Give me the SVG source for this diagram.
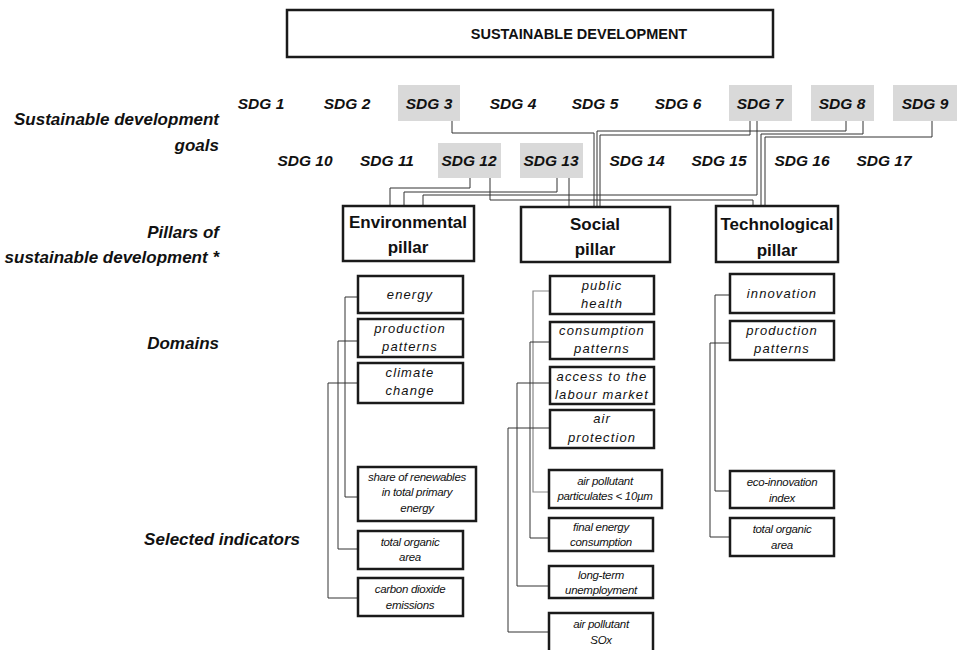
<svg xmlns="http://www.w3.org/2000/svg" width="963" height="650" viewBox="0 0 963 650">
<style>
.bx{fill:#fff;stroke:#1a1a1a;stroke-width:2.5}
.gb{fill:#d9d9d9;stroke:none}
.t{font-family:"Liberation Sans",Arial,sans-serif;fill:#111}
.sdg{font-style:italic;font-weight:bold;font-size:15.5px;text-anchor:middle}
.pl{font-weight:bold;font-size:17px;text-anchor:middle}
.dm{font-style:italic;font-size:13px;letter-spacing:1.1px;text-anchor:middle}
.in{font-style:italic;font-size:11.5px;letter-spacing:-0.3px;text-anchor:middle}
.lb{font-style:italic;font-weight:bold;font-size:17px;text-anchor:end}
.ti{font-size:14.5px;font-weight:bold;text-anchor:middle}
.c{fill:none;stroke:#333;stroke-width:1}
.cg{fill:none;stroke:#888;stroke-width:1.2}
</style>
<rect width="963" height="650" fill="#fff"/>
<g id="title"><rect class="bx" x="287" y="10" width="486" height="47"/><text class="t ti" x="579" y="39">SUSTAINABLE DEVELOPMENT</text></g>
<g id="labels">
<text class="t lb" x="219" y="125">Sustainable development</text>
<text class="t lb" x="219" y="151">goals</text>
<text class="t lb" x="219" y="238">Pillars of</text>
<text class="t lb" x="219" y="263">sustainable development *</text>
<text class="t lb" x="219" y="349">Domains</text>
<text class="t lb" x="300" y="545">Selected indicators</text>
</g>
<g id="connectors">
<path class="c" d="M452 121V133H594V207"/>
<path class="c" d="M846 121V131H597V207"/>
<path class="c" d="M750 121V135H600V207"/>
<path class="c" d="M863 121V134H761V206"/>
<path class="c" d="M932 121V137H765V206"/>
<path class="c" d="M757 121V195H423V206"/>
<path class="c" d="M470 178V188H390V206"/>
<path class="c" d="M490 178V200H753V206"/>
<path class="c" d="M557 178V192H404V206"/>
<path class="c" d="M569 178V207"/>
<path class="c" d="M358 297H345V497H358"/>
<path class="c" d="M358 341H338V549H358"/>
<path class="c" d="M358 383H328V598H358"/>
<path class="cg" d="M550 291H533V492H549"/>
<path class="c" d="M550 342H530V538H549"/>
<path class="c" d="M550 383H517V586H549"/>
<path class="c" d="M550 428H508V632H549"/>
<path class="c" d="M730 295H715V491H730"/>
<path class="c" d="M730 343H710V537H730"/>
</g>
<g id="sdg1"><text class="t sdg" x="261" y="109">SDG 1</text></g>
<g id="sdg2"><text class="t sdg" x="347" y="109">SDG 2</text></g>
<g id="sdg3"><rect class="gb" x="398" y="85" width="62" height="36"/><text class="t sdg" x="429" y="109">SDG 3</text></g>
<g id="sdg4"><text class="t sdg" x="513" y="109">SDG 4</text></g>
<g id="sdg5"><text class="t sdg" x="595" y="109">SDG 5</text></g>
<g id="sdg6"><text class="t sdg" x="678" y="109">SDG 6</text></g>
<g id="sdg7"><rect class="gb" x="729" y="85" width="63" height="36"/><text class="t sdg" x="760" y="109">SDG 7</text></g>
<g id="sdg8"><rect class="gb" x="811" y="85" width="63" height="36"/><text class="t sdg" x="842" y="109">SDG 8</text></g>
<g id="sdg9"><rect class="gb" x="893" y="85" width="64" height="36"/><text class="t sdg" x="925" y="109">SDG 9</text></g>
<g id="sdg10"><text class="t sdg" x="305" y="166">SDG 10</text></g>
<g id="sdg11"><text class="t sdg" x="387" y="166">SDG 11</text></g>
<g id="sdg12"><rect class="gb" x="438" y="143" width="63" height="35"/><text class="t sdg" x="469" y="166">SDG 12</text></g>
<g id="sdg13"><rect class="gb" x="520" y="143" width="63" height="35"/><text class="t sdg" x="551" y="166">SDG 13</text></g>
<g id="sdg14"><text class="t sdg" x="637" y="166">SDG 14</text></g>
<g id="sdg15"><text class="t sdg" x="719" y="166">SDG 15</text></g>
<g id="sdg16"><text class="t sdg" x="802" y="166">SDG 16</text></g>
<g id="sdg17"><text class="t sdg" x="884" y="166">SDG 17</text></g>
<g id="env-pillar"><rect class="bx" x="343" y="206" width="131" height="55"/><text class="t pl" x="408" y="228">Environmental</text><text class="t pl" x="408" y="253">pillar</text></g>
<g id="soc-pillar"><rect class="bx" x="521" y="207" width="149" height="55"/><text class="t pl" x="595" y="230">Social</text><text class="t pl" x="595" y="255">pillar</text></g>
<g id="tech-pillar"><rect class="bx" x="716" y="206" width="122" height="56"/><text class="t pl" x="777" y="230">Technological</text><text class="t pl" x="777" y="256">pillar</text></g>
<g id="env-energy"><rect class="bx" x="358" y="276" width="105" height="37"/><text class="t dm" x="410" y="299">energy</text></g>
<g id="env-production"><rect class="bx" x="358" y="319" width="105" height="38"/><text class="t dm" x="410" y="333">production</text><text class="t dm" x="410" y="351">patterns</text></g>
<g id="env-climate"><rect class="bx" x="358" y="363" width="105" height="40"/><text class="t dm" x="410" y="377">climate</text><text class="t dm" x="410" y="395">change</text></g>
<g id="soc-health"><rect class="bx" x="550" y="276" width="104" height="38"/><text class="t dm" x="602" y="290">public</text><text class="t dm" x="602" y="308">health</text></g>
<g id="soc-consumption"><rect class="bx" x="550" y="322" width="104" height="37"/><text class="t dm" x="602" y="335">consumption</text><text class="t dm" x="602" y="353">patterns</text></g>
<g id="soc-labour"><rect class="bx" x="550" y="367" width="104" height="37"/><text class="t dm" x="602" y="381">access to the</text><text class="t dm" x="602" y="399">labour market</text></g>
<g id="soc-air"><rect class="bx" x="550" y="410" width="104" height="38"/><text class="t dm" x="602" y="423">air</text><text class="t dm" x="602" y="442">protection</text></g>
<g id="tech-innovation"><rect class="bx" x="730" y="274" width="104" height="39"/><text class="t dm" x="782" y="298">innovation</text></g>
<g id="tech-production"><rect class="bx" x="730" y="321" width="104" height="39"/><text class="t dm" x="782" y="335">production</text><text class="t dm" x="782" y="353">patterns</text></g>
<g id="ind-renewables"><rect class="bx" x="358" y="467" width="118" height="54"/><text class="t in" x="417" y="481">share of renewables</text><text class="t in" x="417" y="496">in total primary</text><text class="t in" x="417" y="512">energy</text></g>
<g id="ind-organic-env"><rect class="bx" x="358" y="531" width="105" height="38"/><text class="t in" x="410" y="546">total organic</text><text class="t in" x="410" y="561">area</text></g>
<g id="ind-co2"><rect class="bx" x="358" y="578" width="105" height="38"/><text class="t in" x="410" y="593">carbon dioxide</text><text class="t in" x="410" y="609">emissions</text></g>
<g id="ind-particulates"><rect class="bx" x="549" y="470" width="113" height="38"/><text class="t in" x="605" y="485">air pollutant</text><text class="t in" x="605" y="500">particulates &lt; 10µm</text></g>
<g id="ind-final-energy"><rect class="bx" x="549" y="518" width="104" height="33"/><text class="t in" x="601" y="531">final energy</text><text class="t in" x="601" y="546">consumption</text></g>
<g id="ind-unemployment"><rect class="bx" x="549" y="566" width="104" height="32"/><text class="t in" x="601" y="579">long-term</text><text class="t in" x="601" y="594">unemployment</text></g>
<g id="ind-sox"><rect class="bx" x="549" y="613" width="104" height="40"/><text class="t in" x="601" y="628">air pollutant</text><text class="t in" x="601" y="644">SOx</text></g>
<g id="ind-eco-innovation"><rect class="bx" x="730" y="471" width="104" height="37"/><text class="t in" x="782" y="486">eco-innovation</text><text class="t in" x="782" y="502">index</text></g>
<g id="ind-organic-tech"><rect class="bx" x="730" y="518" width="104" height="38"/><text class="t in" x="782" y="533">total organic</text><text class="t in" x="782" y="549">area</text></g>
</svg>
